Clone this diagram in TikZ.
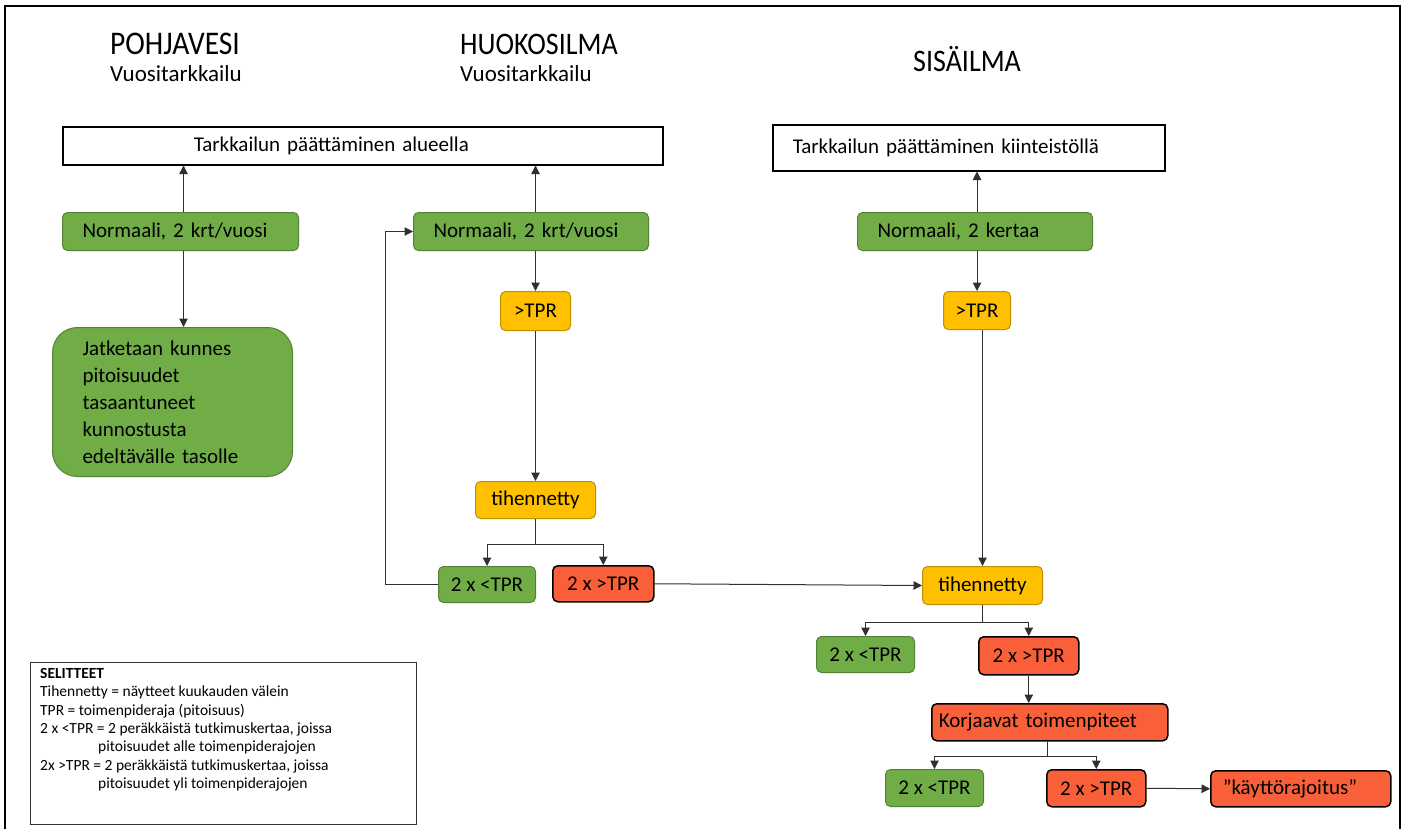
\documentclass[tikz,border=0pt]{standalone}
\usepackage{fontspec}
\setmainfont{Carlito}
\usetikzlibrary{arrows.meta,calc}

\definecolor{okgreen}{HTML}{70AD47}
\definecolor{okgreenline}{HTML}{548235}
\definecolor{warnyellow}{HTML}{FFC000}
\definecolor{warnyellowline}{HTML}{C09000}
\definecolor{alertred}{HTML}{F9603A}
\definecolor{linkgray}{HTML}{303030}

\newcommand{\bodyfont}{\fontsize{21}{27}\selectfont}
\newcommand{\titlefont}{\fontsize{28}{32}\selectfont}
\newcommand{\subfont}{\fontsize{23}{26}\selectfont}
\newcommand{\notefont}{\fontsize{15.5}{18.4}\selectfont}
% column headings are set slightly tall
\newcommand{\tallify}[1]{\scalebox{1}[1.12]{#1}}

\tikzset{
  x=1pt, y=-1pt,
  box/.style={rectangle, rounded corners=5pt, anchor=north west, inner ysep=0pt,
              font=\bodyfont, text=black},
  endbox/.style={box, rounded corners=0pt, draw=black, line width=1.5pt, fill=white, align=left},
  greenbox/.style={box, fill=okgreen, draw=okgreenline, line width=1pt},
  yellowbox/.style={box, fill=warnyellow, draw=warnyellowline, line width=1pt, align=center, inner xsep=0pt},
  redbox/.style={box, fill=alertred, draw=black, line width=1.5pt},
  arr/.style={draw=linkgray, line width=1pt, -{Triangle[width=8.5pt,length=8.5pt]}},
  link/.style={draw=linkgray, line width=1pt},
  heading/.style={anchor=west, font=\titlefont, inner sep=0pt},
  subheading/.style={anchor=west, font=\subfont, inner sep=0pt},
}

\begin{document}
\begin{tikzpicture}
\useasboundingbox (0,0) rectangle (1404,828);

% outer frame
\draw[line width=2pt] (5,830) -- (5,6) -- (1400,6) -- (1400,830);

% column headings
\node[heading, font=\fontsize{29.5}{32}\selectfont] (tpohja) at (110,44) {\tallify{POHJAVESI}};
\node[subheading] (spohja) at (110,74) {Vuositarkkailu};
\node[heading] (thuoko) at (460,44) {\tallify{HUOKOSILMA}};
\node[subheading] (shuoko) at (460,74) {Vuositarkkailu};
\node[heading] (tsisa) at (913,59) {\tallify{SISÄILMA}};

% end-of-monitoring boxes
\node[endbox, text width=338pt, inner xsep=131pt, minimum height=38pt] (endarea) at (62,126)
  {Tarkkailun päättäminen alueella};
\node[endbox, text width=352pt, inner xsep=20pt, minimum height=46pt] (endprop) at (772,124)
  {Tarkkailun päättäminen kiinteistöllä};

% groundwater column
\node[greenbox, text width=196pt, inner xsep=20pt, minimum height=38pt, align=left] (pn) at (62,212)
  {Normaali, 2 krt/vuosi};
\node[greenbox, rounded corners=25pt, text width=180pt, inner xsep=30pt, minimum height=149pt, align=left] (pj) at (52,327)
  {Jatketaan kunnes\\pitoisuudet\\tasaantuneet\\kunnostusta\\edeltävälle tasolle};

% soil gas column
\node[greenbox, text width=195pt, inner xsep=20pt, minimum height=38pt, align=left] (hn) at (413,212)
  {Normaali, 2 krt/vuosi};
\node[yellowbox, minimum width=70pt, minimum height=39pt] (htpr) at (500,291) {>TPR};
\node[yellowbox, minimum width=120pt, minimum height=37pt] (htih) at (475,481) {tihennetty};
\node[greenbox, align=center, inner xsep=0pt, minimum width=97pt, minimum height=36pt] (hlt) at (438,566) {2 x <TPR};
\node[redbox, align=center, inner xsep=0pt, minimum width=101pt, minimum height=36pt] (hgt) at (552,565) {2 x >TPR};

% indoor air column
\node[greenbox, text width=195pt, inner xsep=20pt, minimum height=38pt, align=left] (sn) at (857,212)
  {Normaali, 2 kertaa};
\node[yellowbox, minimum width=67pt, minimum height=38pt] (stpr) at (943,291) {>TPR};
\node[yellowbox, minimum width=120pt, minimum height=38pt] (stih) at (922,566) {tihennetty};
\node[greenbox, align=center, inner xsep=0pt, minimum width=98pt, minimum height=36pt] (slt) at (816,636) {2 x <TPR};
\node[redbox, align=center, inner xsep=0pt, minimum width=100pt, minimum height=38pt] (sgt) at (978,636) {2 x >TPR};
\node[redbox, text width=222pt, inner xsep=7pt, minimum height=37pt, align=left] (korj) at (931,703)
  {Korjaavat toimenpiteet};
\node[greenbox, align=center, inner xsep=0pt, minimum width=98pt, minimum height=37pt] (klt) at (885,769) {2 x <TPR};
\node[redbox, align=center, inner xsep=0pt, minimum width=99pt, minimum height=37pt] (kgt) at (1046,769) {2 x >TPR};
\node[redbox, text width=156pt, inner xsep=12pt, minimum height=36pt, align=left] (kk) at (1210,770)
  {”käyttörajoitus”};

% legend
\node[rectangle, draw=black!80, line width=1pt, anchor=north west, minimum width=386pt, minimum height=162pt] (legendframe) at (30,662) {};
\node[anchor=north west, align=left, inner sep=0pt, font=\notefont] (legendtext) at (40,668)
  {\textbf{SELITTEET}\\
   Tihennetty = näytteet kuukauden välein\\
   TPR = toimenpideraja (pitoisuus)\\
   2 x <TPR = 2 peräkkäistä tutkimuskertaa, joissa\\
   \hspace*{58pt}pitoisuudet alle toimenpiderajojen\\
   2x >TPR = 2 peräkkäistä tutkimuskertaa, joissa\\
   \hspace*{58pt}pitoisuudet yli toimenpiderajojen};

% groundwater connectors
\draw[arr] ([xshift=3pt]pn.north) -- ([xshift=3pt]pn.north |- endarea.south);
\draw[arr] ([xshift=3pt]pn.south) -- ([xshift=3pt]pn.south |- pj.north);

% soil gas connectors
\draw[arr] (hn.north -| htpr.north) -- (endarea.south -| htpr.north);
\draw[arr] (hn.south -| htpr.north) -- (htpr.north);
\draw[arr] (htpr.south) -- (htpr.south |- htih.north);
\draw[link] (htih.south) -- ($(htih.south)+(0,25)$) coordinate (hsplit);
\draw[arr] (hsplit) -| (hlt.north);
\draw[arr] (hsplit) -| (hgt.north);
\draw[arr] (hlt.west) -- ++(-53,0) |- (hn.west);
\draw[arr] (hgt.east) -- (stih.west);

% indoor air connectors
\draw[arr] (sn.north -| stpr.north) -- (endprop.south -| stpr.north);
\draw[arr] (sn.south -| stpr.north) -- (stpr.north);
\draw[arr] (stpr.south -| stih.north) -- (stih.north);
\draw[link] (stih.south) -- ($(stih.south)+(0,17)$) coordinate (ssplit);
\draw[arr] (ssplit) -| (slt.north);
\draw[arr] (ssplit) -| (sgt.north);
\draw[arr] (sgt.south) -- (sgt.south |- korj.north);
\draw[link] ($(korj.south)+(-2,0)$) -- ($(korj.south)+(-2,15)$) coordinate (ksplit);
\draw[arr] (ksplit) -| (klt.north);
\draw[arr] (ksplit) -| (kgt.north);
\draw[arr] (kgt.east) -- (kk.west);
\end{tikzpicture}
\end{document}
